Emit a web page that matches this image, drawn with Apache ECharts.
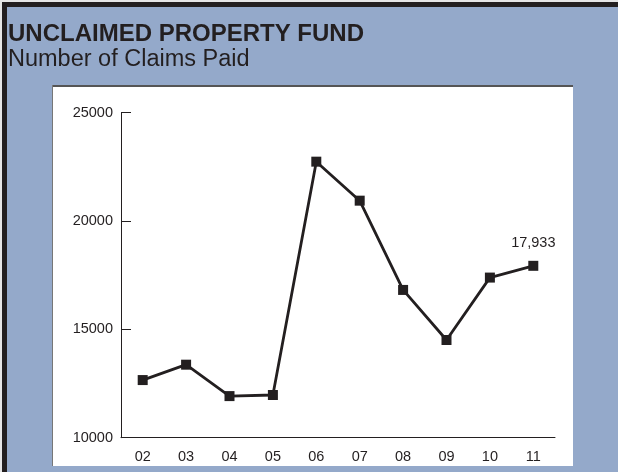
<!DOCTYPE html>
<html>
<head>
<meta charset="utf-8">
<script src="https://cdn.jsdelivr.net/npm/echarts@6/dist/echarts.min.js"></script>
<style>
  html, body { margin: 0; padding: 0; background: #e6e6e6; }
  #chart { width: 618px; height: 472px; }
</style>
</head>
<body>
<div id="chart"></div>
<script>
// fiscal years and claims paid
var years = ['02', '03', '04', '05', '06', '07', '08', '09', '10', '11'];
var claims = [12660, 13370, 11920, 11970, 22740, 20940, 16820, 14510, 17390, 17933];
var yTicks = [10000, 15000, 20000, 25000];

var ink = '#231F20';
var chart = echarts.init(document.getElementById('chart'));

chart.setOption({
  backgroundColor: '#e6e6e6',
  animation: false,
  textStyle: { fontFamily: 'Liberation Sans, Arial, sans-serif' },
  graphic: [
    { type: 'rect', z: -10, shape: { x: 2, y: 2, width: 616, height: 470 }, style: { fill: ink } },
    { type: 'rect', z: -9, shape: { x: 7, y: 7, width: 611, height: 465 }, style: { fill: '#94A9CA' } },
    { type: 'rect', z: -8, shape: { x: 52, y: 85, width: 521, height: 381 }, style: { fill: '#fff' } },
    { type: 'line', z: -7, shape: { x1: 52, y1: 86, x2: 573, y2: 86 }, style: { stroke: '#555', lineWidth: 2 } },
    { type: 'line', z: -7, shape: { x1: 52.5, y1: 85, x2: 52.5, y2: 466 }, style: { stroke: '#777', lineWidth: 1 } }
  ],
  title: {
    text: 'UNCLAIMED PROPERTY FUND',
    subtext: 'Number of Claims Paid',
    left: 3,
    top: 17,
    itemGap: 2,
    textStyle: { color: ink, fontSize: 24, fontWeight: 'bold' },
    subtextStyle: { color: ink, fontSize: 23.5 }
  },
  grid: { left: 121, right: 63, top: 112.7, bottom: 34.3 },
  xAxis: {
    type: 'category',
    data: years,
    boundaryGap: true,
    axisLine: { lineStyle: { color: ink, width: 1 } },
    axisTick: { inside: true, length: 9, lineStyle: { color: ink } },
    axisLabel: { color: ink, fontSize: 14.5, margin: 12 },
    splitLine: { show: false }
  },
  yAxis: {
    type: 'value',
    min: yTicks[0],
    max: yTicks[yTicks.length - 1],
    interval: 5000,
    axisLine: { show: true, lineStyle: { color: ink, width: 1 } },
    axisTick: { show: true, inside: true, length: 10, lineStyle: { color: ink } },
    axisLabel: { color: ink, fontSize: 14.5, margin: 8, formatter: function (v) { return String(v); } },
    splitLine: { show: false }
  },
  series: [{
    type: 'line',
    data: claims.map(function (v, i) {
      if (i === claims.length - 1) {
        return {
          value: v,
          label: {
            show: true,
            position: 'top',
            distance: 10,
            color: ink,
            fontSize: 14.5,
            formatter: function (p) { return p.value.toLocaleString('en-US'); }
          }
        };
      }
      return v;
    }),
    symbol: 'rect',
    symbolSize: 10,
    lineStyle: { color: ink, width: 2.8 },
    itemStyle: { color: ink },
    label: { show: false }
  }]
});
</script>
</body>
</html>
